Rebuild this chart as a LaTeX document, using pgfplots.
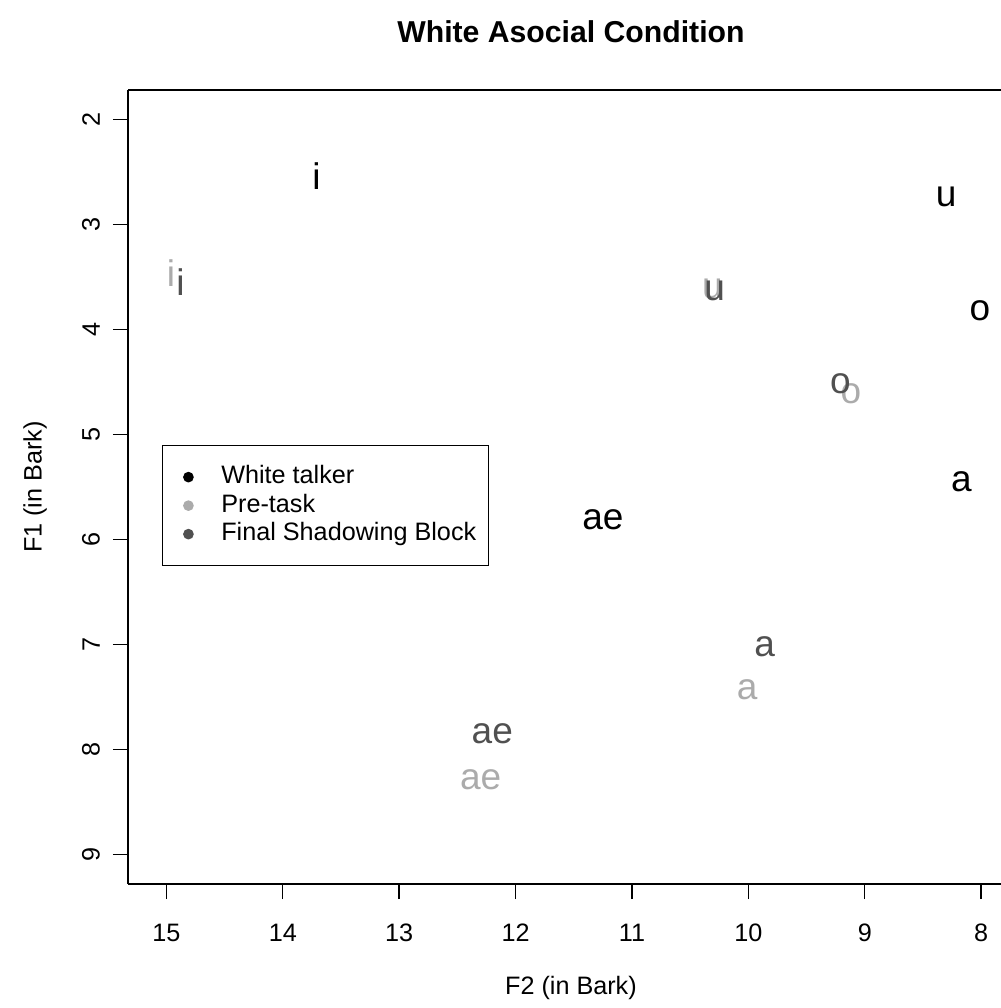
\documentclass[border=0pt]{standalone}
\usepackage{fontspec}
\setmainfont{Liberation Sans}
\usepackage{pgfplots}
\usepackage{pgfplotstable}
\pgfplotsset{compat=1.18}
\usetikzlibrary{calc}

\definecolor{pretask}{HTML}{ABABAB}
\definecolor{finalblk}{HTML}{505050}

% F2, F1 (Bark) and vowel label
\pgfplotstableread{
x y lab
13.71 2.54 i
8.30 2.74 u
8.01 3.82 o
8.17 5.45 a
11.25 5.81 ae
}\talker
\pgfplotstableread{
x y lab
14.96 3.46 i
10.31 3.61 u
9.12 4.61 o
10.01 7.43 a
12.30 8.29 ae
}\pretask
\pgfplotstableread{
x y lab
14.88 3.55 i
10.29 3.63 u
9.21 4.52 o
9.86 7.02 a
12.20 7.85 ae
}\finalblock

\begin{document}
\begin{tikzpicture}
\begin{axis}[
  at={(0pt,0pt)}, anchor=south west,
  scale only axis, width=436.5pt, height=397pt,
  x dir=reverse, y dir=reverse,
  xmin=7.83, xmax=15.33, ymin=1.72, ymax=9.28,
  axis x line*=box, axis y line*=left,
  xtick={8,...,15}, ytick={2,...,9},
  tick align=outside, xtick pos=left, ytick pos=left,
  major tick length=7.5pt,
  every tick/.style={black, line width=0.7pt},
  axis line style={line width=0.7pt},
  /pgf/number format/assume math mode=true,
  ticklabel style={font=\fontsize{12.6}{15}\selectfont},
  xticklabel style={yshift=-9pt},
  yticklabel style={rotate=90, anchor=south, yshift=3pt},
  label style={font=\fontsize{12.6}{15}\selectfont},
  xlabel={F2 (in Bark)},
  ylabel={F1 (in Bark)},
  xlabel style={at={(axis description cs:0.5074,-0.131)}, anchor=center},
  ylabel style={at={(axis description cs:-0.1065,0.5)}, anchor=center},
  title={White Asocial Condition},
  title style={at={(axis description cs:0.5074,1.058)}, anchor=center,
    font=\bfseries\fontsize{15.1}{18}\selectfont},
  legend style={at={(axis description cs:0.039,0.553)}, anchor=north west,
    draw=black, line width=0.7pt, inner xsep=6pt, inner ysep=10pt,
    font=\fontsize{12.6}{15}\selectfont,
    nodes={inner sep=0pt, text height=9pt, text depth=2.5pt},
    row sep=2.75pt, column sep=13.8pt},
  legend cell align=left,
  legend image code/.code={\path (-6.5pt,0pt); \fill[#1] (0pt,0pt) circle (2.3pt);},
  nodes near coords,
  point meta=explicit symbolic,
  every node near coord/.append style={anchor=center, inner sep=0pt,
    font=\fontsize{18.5}{20}\selectfont},
]
\addlegendimage{black}
\addlegendentry{White talker}
\addlegendimage{pretask}
\addlegendentry{Pre-task}
\addlegendimage{finalblk}
\addlegendentry{Final Shadowing Block}

\addplot[draw=none, every node near coord/.append style={text=black}]
  table[x=x, y=y, meta=lab] {\talker};
\addplot[draw=none, every node near coord/.append style={text=pretask}]
  table[x=x, y=y, meta=lab] {\pretask};
\addplot[draw=none, every node near coord/.append style={text=finalblk}]
  table[x=x, y=y, meta=lab] {\finalblock};
\end{axis}
\pgfresetboundingbox
\path[use as bounding box] ($(current axis.south west)+(-64pt,-62pt)$)
  rectangle ($(current axis.north east)+(0pt,45pt)$);
\end{tikzpicture}
\end{document}
